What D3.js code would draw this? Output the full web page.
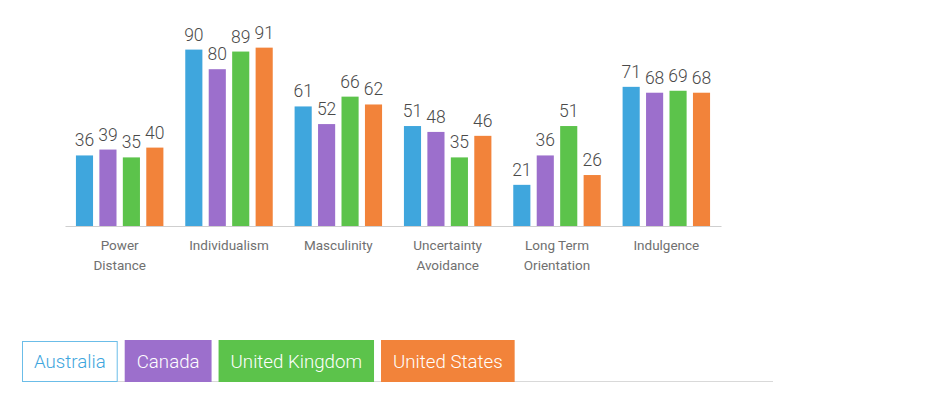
<!DOCTYPE html>
<html>
<head>
<meta charset="utf-8">
<script src="https://cdn.jsdelivr.net/npm/d3@7"></script>
<style>
  html, body { margin: 0; padding: 0; background: #ffffff; }
  svg { display: block; }
</style>
</head>
<body>
<svg id="chart" width="939" height="393"></svg>
<script>
const categories = ["Power Distance", "Individualism", "Masculinity", "Uncertainty Avoidance", "Long Term Orientation", "Indulgence"];
const categoryLines = [["Power", "Distance"], ["Individualism"], ["Masculinity"], ["Uncertainty", "Avoidance"], ["Long Term", "Orientation"], ["Indulgence"]];
const seriesNames = ["Australia", "Canada", "United Kingdom", "United States"];
const australia = [36, 90, 61, 51, 21, 71];
const canada = [39, 80, 52, 48, 36, 68];
const unitedKingdom = [35, 89, 66, 35, 51, 69];
const unitedStates = [40, 91, 62, 46, 26, 68];
const seriesValues = [australia, canada, unitedKingdom, unitedStates];
const colors = ["#3fa6dd", "#9c6fcc", "#5cc34b", "#f2833a"];

const svg = d3.select("#chart");
const font = "Roboto, 'DejaVu Sans', sans-serif";

const x0 = d3.scaleBand().domain(categories).range([65, 721]).paddingInner(0.2).paddingOuter(0.1);
const x1 = d3.scaleBand().domain(seriesNames).range([0, x0.bandwidth()]).paddingInner(0.27).paddingOuter(0);
const y = d3.scaleLinear().domain([0, 100]).range([226, 30]);

const groups = svg.append("g").selectAll("g")
  .data(categories)
  .join("g")
  .attr("transform", d => `translate(${x0(d)},0)`);

groups.selectAll("rect")
  .data((c, i) => seriesNames.map((s, k) => ({ s, k, v: seriesValues[k][i] })))
  .join("rect")
  .attr("x", d => x1(d.s))
  .attr("y", d => y(d.v))
  .attr("width", x1.bandwidth())
  .attr("height", d => y(0) - y(d.v))
  .attr("fill", d => colors[d.k]);

groups.selectAll("text.val")
  .data((c, i) => seriesNames.map((s, k) => ({ s, k, v: seriesValues[k][i] })))
  .join("text")
  .attr("class", "val")
  .attr("x", d => x1(d.s) + x1.bandwidth() / 2)
  .attr("y", d => y(d.v) - 9)
  .attr("text-anchor", "middle")
  .attr("font-family", font)
  .attr("font-weight", 300)
  .attr("font-size", 17.5)
  .attr("fill", "#4a4a4a")
  .text(d => d.v);

// axis
const axis = svg.append("g").attr("transform", `translate(0,${y(0)})`)
  .call(d3.axisBottom(x0).tickSize(0).tickFormat(""));
axis.select(".domain").attr("stroke", "#cfcfcf").attr("stroke-width", 1.2);

axis.selectAll(".tick").each(function(d, i) {
  const t = d3.select(this).append("text")
    .attr("text-anchor", "middle")
    .attr("font-family", font)
    .attr("font-size", 13.5)
    .attr("fill", "#707070");
  categoryLines[i].forEach((ln, j) => {
    t.append("tspan").attr("x", 0).attr("y", 24 + j * 20).text(ln);
  });
});

// legend tabs
svg.append("line")
  .attr("x1", 22).attr("x2", 773)
  .attr("y1", 381.5).attr("y2", 381.5)
  .attr("stroke", "#d9d9d9").attr("stroke-width", 1);
const legend = svg.append("g");
const tabTop = 340, tabBottom = 382;
let cx = 22;
seriesNames.forEach((name, k) => {
  const g = legend.append("g");
  const txt = g.append("text")
    .attr("font-family", font)
    .attr("font-weight", 300)
    .attr("font-size", 18.7)
    .attr("text-anchor", "middle")
    .attr("fill", k === 0 ? colors[0] : "#ffffff")
    .text(name);
  const w = txt.node().getComputedTextLength() + 24;
  const top = k === 0 ? tabTop + 1 : tabTop;
  g.insert("rect", "text")
    .attr("x", cx + (k === 0 ? 0.5 : 0))
    .attr("y", top + (k === 0 ? 0.5 : 0))
    .attr("width", w - (k === 0 ? 1 : 0))
    .attr("height", tabBottom - top - (k === 0 ? 1 : 0))
    .attr("fill", k === 0 ? "#ffffff" : colors[k])
    .attr("stroke", k === 0 ? "#6bbde8" : "none")
    .attr("stroke-width", 1);
  txt.attr("x", cx + w / 2).attr("y", 368);
  cx += w + 7;
});
</script>
</body>
</html>
